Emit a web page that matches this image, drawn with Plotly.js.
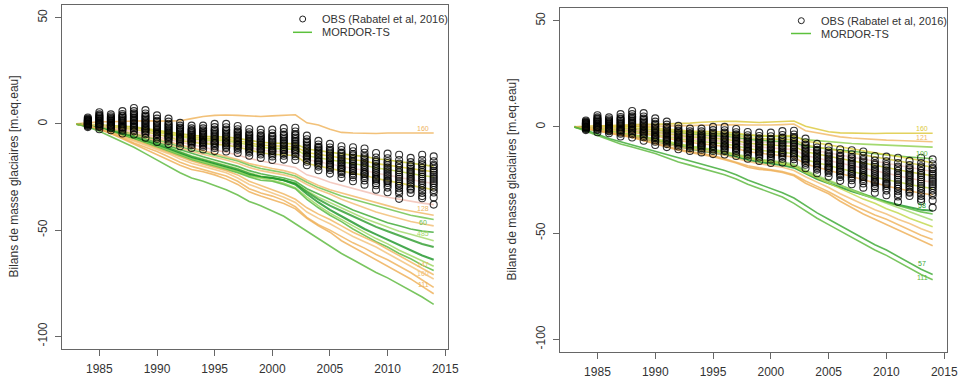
<!DOCTYPE html>
<html><head><meta charset="utf-8">
<script src="https://cdn.plot.ly/plotly-3.0.1.min.js"></script>
<style>html,body{margin:0;padding:0;background:#fff}#chart{width:963px;height:383px}</style>
</head><body><div id="chart"></div>
<script>
// ---------- DATA ----------
const simYears = [1983,1984,1985,1986,1987,1988,1989,1990,1991,1992,1993,1994,1995,1996,1997,1998,1999,2000,2001,2002,2003,2004,2005,2006,2007,2008,2009,2010,2011,2012,2013,2014];
const obsYears = [1984,1985,1986,1987,1988,1989,1990,1991,1992,1993,1994,1995,1996,1997,1998,1999,2000,2001,2002,2003,2004,2005,2006,2007,2008,2009,2010,2011,2012,2013,2014];
const xTicks = [1985,1990,1995,2000,2005,2010,2015];
const yTicks = [-100,-50,0,50];
const yTitle = "Bilans de masse glaciaires [m.eq.eau]";
const legendObs = "OBS (Rabatel et al, 2016)";
const legendSim = "MORDOR-TS";

// Observed cumulative mass balances (one array per glacier)
const obsG01 = [3.0,5.5,4.5,6.0,7.5,6.5,4.0,2.5,0.5,-0.8,-0.8,0,0,-1.0,-2.4,-2.7,-2.7,-2.0,-1.8,-5.5,-8.0,-9.4,-10.5,-11.0,-11.6,-13.7,-14.0,-14.5,-16.0,-14.5,-15.3];
const obsG02 = [2.5,4.5,3.6,4.7,6.0,4.9,2.5,1.1,-0.8,-2.1,-2.1,-1.5,-1.6,-2.5,-3.9,-4.3,-4.4,-3.8,-3.6,-7.2,-9.7,-11.1,-12.3,-12.9,-13.6,-15.8,-16.2,-17.0,-18.0,-17.0,-17.6];
const obsG03 = [1.9,3.6,2.7,3.5,4.5,3.4,1.0,-0.4,-2.1,-3.3,-3.5,-3.1,-3.1,-4.0,-5.4,-5.9,-6.1,-5.6,-5.4,-8.9,-11.3,-12.8,-14.1,-14.8,-15.7,-17.9,-18.4,-19.5,-20.0,-19.4,-19.9];
const obsG04 = [1.4,2.7,1.9,2.3,3.1,1.9,-0.4,-1.7,-3.4,-4.5,-4.7,-4.5,-4.6,-5.4,-6.8,-7.4,-7.7,-7.2,-7.1,-10.4,-12.8,-14.3,-15.7,-16.6,-17.6,-19.8,-20.4,-21.8,-21.8,-21.7,-22.1];
const obsG05 = [1.0,1.9,1.1,1.3,1.9,0.7,-1.6,-2.9,-4.5,-5.5,-5.8,-5.8,-5.9,-6.7,-8.1,-8.7,-9.1,-8.7,-8.6,-11.8,-14.2,-15.7,-17.2,-18.2,-19.3,-21.5,-22.2,-23.9,-23.4,-23.7,-24.0];
const obsG06 = [0.5,1.1,0.4,0.2,0.6,-0.7,-2.9,-4.1,-5.6,-6.6,-7.0,-7.0,-7.2,-8.0,-9.3,-10.0,-10.6,-10.1,-10.2,-13.2,-15.6,-17.1,-18.7,-19.8,-21.0,-23.2,-24.0,-25.9,-25.1,-25.8,-25.9];
const obsG07 = [0.1,0.3,-0.4,-0.8,-0.6,-2.0,-4.1,-5.3,-6.7,-7.6,-8.1,-8.3,-8.5,-9.3,-10.6,-11.3,-12.0,-11.6,-11.7,-14.6,-17.0,-18.5,-20.2,-21.4,-22.7,-25.0,-25.8,-28.0,-26.7,-27.8,-27.8];
const obsG08 = [-0.4,-0.6,-1.2,-2.0,-2.0,-3.4,-5.5,-6.6,-7.9,-8.8,-9.3,-9.7,-9.9,-10.7,-12.0,-12.8,-13.6,-13.2,-13.4,-16.1,-18.5,-20.0,-21.8,-23.2,-24.5,-26.8,-27.8,-30.3,-28.5,-30.1,-30.0];
const obsG09 = [-1.0,-1.5,-2.1,-3.2,-3.5,-4.9,-7.0,-8.1,-9.2,-10.0,-10.7,-11.3,-11.4,-12.2,-13.5,-14.4,-15.3,-15.0,-15.2,-17.8,-20.1,-21.7,-23.6,-25.1,-26.6,-28.9,-30.0,-32.8,-30.5,-32.5,-32.3];
const obsG10 = [-1.5,-2.5,-3.0,-4.5,-5.0,-6.5,-8.5,-9.5,-10.5,-11.3,-12.0,-12.8,-13.0,-13.7,-15.0,-16.0,-17.0,-16.8,-17.0,-19.5,-21.8,-23.4,-25.4,-27.0,-28.6,-31.0,-32.2,-35.3,-32.5,-35.0,-34.6];
const obsG11 = [0.0,-0.1,-0.8,-1.4,-1.3,-2.7,-4.8,-6.0,-7.3,-8.2,-8.7,-9.0,-9.2,-10.0,-11.3,-12.0,-12.8,-12.4,-12.6,-15.4,-17.8,-19.3,-21.0,-22.3,-23.6,-25.9,-27.0,-29.1,-31.0,-34.0,-38.0];
const obsG12 = [1.6,3.1,2.3,2.9,3.8,2.6,0.3,-1.1,-2.8,-4.0,-4.2,-3.8,-3.9,-4.8,-6.2,-6.7,-7.0,-6.4,-6.4,-9.7,-12.1,-13.6,-15.0,-15.8,-16.7,-18.9,-19.5,-20.7,-21.0,-20.7,-21.1];
const obsG13 = [1.2,2.3,1.5,1.8,2.5,1.3,-1.0,-2.3,-3.9,-5.0,-5.3,-5.1,-5.2,-6.1,-7.4,-8.0,-8.4,-7.9,-7.9,-11.1,-13.5,-15.0,-16.5,-17.4,-18.4,-20.6,-21.3,-22.8,-22.6,-22.7,-23.0];
const obsG14 = [0.8,1.5,0.8,0.8,1.3,0.0,-2.3,-3.5,-5.0,-6.1,-6.4,-6.4,-6.5,-7.4,-8.7,-9.4,-9.9,-9.4,-9.4,-12.5,-14.9,-16.4,-18.0,-19.0,-20.1,-22.4,-23.1,-24.9,-24.3,-24.8,-25.0];
const obsG15 = [0.3,0.7,0.0,-0.3,0.0,-1.3,-3.5,-4.7,-6.1,-7.1,-7.5,-7.7,-7.8,-8.6,-10.0,-10.7,-11.3,-10.9,-10.9,-13.9,-16.3,-17.8,-19.4,-20.6,-21.8,-24.1,-24.9,-27.0,-25.9,-26.8,-26.9];
const obsG16 = [-0.2,-0.1,-0.8,-1.4,-1.3,-2.6,-4.8,-5.9,-7.2,-8.2,-8.6,-9.0,-9.1,-9.9,-11.2,-12.0,-12.7,-12.4,-12.4,-15.3,-17.7,-19.2,-20.9,-22.2,-23.5,-25.8,-26.7,-29.1,-27.6,-28.9,-28.8];
const obsG17 = [2.1,3.9,3.0,3.9,5.0,3.9,1.5,0.1,-1.7,-2.9,-3.0,-2.6,-2.6,-3.5,-4.9,-5.4,-5.6,-5.0,-4.8,-8.3,-10.8,-12.2,-13.5,-14.2,-15.0,-17.2,-17.6,-18.7,-19.3,-18.6,-19.2];
const obsG18 = [-0.7,-1.1,-1.7,-2.6,-2.8,-4.2,-6.3,-7.3,-8.5,-9.4,-10.0,-10.5,-10.7,-11.4,-12.7,-13.6,-14.4,-14.1,-14.3,-17.0,-19.3,-20.9,-22.7,-24.1,-25.5,-27.9,-28.9,-31.6,-29.5,-31.3,-31.1];

// Left panel simulations
const simL01 = [0,0.5,1,1,1.2,1.5,1.5,1.3,1.5,1.5,2.5,3.5,4,4.2,4,3.8,3.5,3.8,4,4.3,0.5,-0.5,-2.5,-4,-4.3,-4.5,-4.5,-4.3,-4.3,-4.5,-4.5,-4.3];
const simL02 = [0,-0.1,-0.4,-0.8,-1.2,-1.4,-2.2,-3,-3.8,-4.8,-5.4,-5.8,-6,-6.2,-6.8,-7.8,-8.6,-9,-9.2,-9.4,-11.8,-12.6,-13.4,-14.2,-14.8,-15.3,-16.4,-17,-17.8,-18.6,-19.3,-20];
const simL03 = [0,-0.2,-0.6,-1.1,-1.5,-1.8,-2.7,-3.6,-4.5,-5.6,-6.3,-6.7,-7,-7.2,-7.9,-9,-9.9,-10.3,-10.6,-10.8,-13.5,-14.4,-15.3,-16.2,-16.9,-17.5,-18.7,-19.4,-20.3,-21.2,-21.8,-22.5];
const simL04 = [0,-0.2,-0.7,-1.2,-1.7,-2,-3,-4,-5,-6.2,-7,-7.5,-7.8,-8,-8.8,-10,-11,-11.5,-11.8,-12,-15,-16,-17,-18,-18.8,-19.5,-20.8,-21.5,-22.5,-23.5,-24.3,-25];
const simL05 = [0,-0.3,-0.8,-1.4,-2,-2.2,-3.4,-4.5,-5.6,-7,-7.8,-8.4,-8.7,-9,-9.8,-11.2,-12.3,-12.9,-13.2,-13.4,-16.8,-17.9,-19,-20.2,-21,-21.8,-23.2,-24.1,-25.2,-26.3,-27.2,-28];
const simL06 = [0,-0.3,-0.9,-1.5,-2.2,-2.5,-3.7,-5,-6.2,-7.8,-8.7,-9.3,-9.6,-10,-10.9,-12.4,-13.6,-14.3,-14.6,-14.9,-18.6,-19.8,-21,-22.3,-23.3,-24.2,-25.7,-26.7,-27.9,-29.1,-30,-31];
const simL07 = [0,-0.5,-1.2,-2,-2.8,-3.6,-4.8,-6,-7.3,-8.6,-9.8,-10.8,-12,-13.2,-14.6,-16.3,-17.5,-18.5,-19.5,-20.5,-24,-25.5,-27.5,-29,-30.5,-32,-33.3,-34.5,-35.5,-36.5,-37.3,-38];
const simL08 = [0,-0.7,-1.5,-2.4,-3.4,-4.4,-5.7,-7,-8.5,-10,-11.5,-12.7,-14,-15.3,-16.8,-18.7,-20,-21,-22,-23.5,-26.5,-29,-31,-32.5,-34,-35.5,-37,-38.5,-40,-41,-42,-43];
const simL09 = [0,-0.7,-1.6,-2.6,-3.7,-4.8,-6.2,-7.6,-9.2,-10.8,-12.3,-13.5,-14.8,-16,-17.5,-19.5,-21,-22,-23,-24.5,-27.5,-30,-32,-34,-35.5,-37,-38.5,-40,-41.5,-43,-44,-45];
const simL10 = [0,-0.8,-1.8,-2.8,-4,-5.2,-6.7,-8.2,-9.8,-11.5,-13,-14.3,-15.5,-17,-18.5,-20.5,-22,-23,-24,-25.5,-28.5,-31,-33,-35.5,-37.5,-39.5,-41.5,-43,-44.5,-46,-47,-48];
const simL11 = [0,-0.8,-1.8,-3,-4.3,-5.6,-7.2,-8.8,-10.5,-12.3,-14,-15.5,-17,-18.5,-20,-22,-23.5,-24.5,-25.5,-27,-30.5,-33,-35.5,-38,-40.5,-42.5,-44.5,-46.5,-48,-49.5,-50.5,-51];
const simL12 = [0,-1,-2,-3.3,-4.6,-6,-7.7,-9.3,-11,-13,-15,-16.5,-18,-19.5,-21,-23,-24.5,-25.5,-26.5,-28,-31.5,-34.5,-37,-39.5,-42,-44.5,-46.5,-48.5,-50.5,-52,-53.5,-55];
const simL13 = [0,-1,-2,-3.4,-4.8,-6.2,-8,-9.5,-11.5,-13.5,-15.5,-17,-18.5,-20,-21.5,-23.5,-25,-25.5,-26.5,-28,-32,-35.5,-38.5,-41,-43.5,-46,-48.5,-50.5,-52.5,-54.5,-56.5,-58];
const simL14 = [0,-1,-2.2,-3.6,-5,-6.5,-8.3,-10,-12,-14,-16,-17.5,-19,-20.5,-22,-24,-25,-25.5,-26.5,-28.5,-33,-37,-40.5,-43.5,-46.5,-49.5,-52,-54.5,-57,-59.5,-62,-64];
const simL15 = [0,-1,-2.3,-3.8,-5.3,-6.8,-8.7,-10.5,-12.5,-14.5,-16.5,-18,-19.5,-21,-22.5,-24.5,-25.5,-26.5,-28,-30,-34.5,-38.5,-42,-45,-48,-51,-54,-56.5,-59.5,-62,-64.5,-67];
const simL16 = [0,-1,-2.5,-4,-5.5,-7,-9,-11,-13,-15,-17,-18.5,-20,-21.5,-23,-25,-26.5,-27,-28.5,-30.5,-35.5,-39.5,-43,-46,-49.5,-52.5,-55.5,-58,-61,-63.5,-66.5,-69];
const simL17 = [0,-1,-2.2,-4,-5.8,-7.5,-9.5,-11.5,-13.5,-15.5,-17.5,-19,-20.5,-22,-24,-27,-29,-31,-33,-35.5,-39.5,-42.5,-45,-48,-51,-53.5,-56,-59,-62,-65,-68,-71];
const simL18 = [0,-1,-2.3,-4,-6,-8,-10,-12,-14,-16.5,-18.5,-20,-21.5,-23,-25.5,-28.5,-30.5,-32.5,-34.5,-37,-41.5,-44.5,-47,-50,-53,-55.5,-58,-61,-64,-67,-70,-73];
const simL19 = [0,-1,-2.5,-4.5,-6.5,-9,-11,-13,-15.5,-18,-20,-21.5,-22.7,-24.5,-27,-30.5,-32.5,-34,-36,-39,-44,-47.5,-50,-53,-56,-58.5,-61.5,-64,-67,-70,-73.5,-77];
const simL20 = [0,-1,-2.5,-4.5,-7,-9.5,-12,-14.5,-17,-19.5,-21.5,-22.5,-24,-26,-28.5,-32,-34,-35.7,-37.5,-40,-44.5,-48,-51,-55,-58,-61,-64,-67,-70,-73,-76.5,-80];
const simL21 = [0,-1.5,-3.5,-6,-8.5,-11,-14,-17,-20,-23,-25.5,-27,-29,-31,-33.5,-36.5,-38.5,-41,-43.5,-47,-50.5,-54,-57.5,-61,-64,-67,-70,-72.5,-75.5,-78.5,-81.5,-85];
const leftLabels = ["160","","","","","","","128","60","","","485","","","","","147","160","111","",""];

// Right panel simulations
const simR01 = [0,0.2,0.5,0.8,1,1.2,1.2,1.2,1.3,1.5,1.8,2.2,2.5,2.7,2.6,2.3,2.1,2.3,2.5,2.8,0.3,-1,-2.3,-2.8,-3,-3.1,-3.1,-3,-3,-3.1,-3.1,-3];
const simR02 = [0,0.1,0.2,0.3,0.4,0.5,0.4,0.3,0.3,0.4,0.6,0.8,1,1.2,1.1,0.9,0.8,0.9,1.1,1.4,-1.8,-2.8,-3.9,-4.7,-5.2,-5.6,-5.9,-6.2,-6.4,-6.6,-6.8,-7];
const simR03 = [0,0,-0.2,-0.4,-0.6,-0.7,-1.1,-1.5,-1.9,-2.4,-2.7,-2.9,-3,-3.3,-3.6,-4.1,-4.4,-4.5,-4.5,-4.6,-6,-6.5,-7,-7.4,-7.8,-8.1,-8.4,-8.7,-8.9,-9.1,-9.3,-9.5];
const simR04 = [0,-0.1,-0.3,-0.6,-0.9,-1.1,-1.6,-2.1,-2.6,-3.2,-3.6,-3.9,-4.1,-4.5,-5,-5.9,-6.4,-6.7,-7,-7.3,-9.2,-9.8,-10.4,-11,-11.6,-12.1,-12.7,-13.2,-13.7,-14.2,-14.6,-15];
const simR05 = [0,0.2,0.3,0.3,0.2,0.3,-0.1,-0.6,-1.1,-1.7,-2,-2.1,-2.1,-2.4,-2.9,-3.7,-4.1,-4.2,-4.2,-4.2,-6.6,-7.5,-8.4,-9.3,-10.2,-11,-12,-12.8,-13.7,-14.6,-15.8,-17];
const simR06 = [0,0.1,0,-0.2,-0.4,-0.4,-0.9,-1.4,-2,-2.7,-3,-3.2,-3.3,-3.7,-4.2,-5.1,-5.6,-5.8,-5.9,-6,-8.5,-9.4,-10.3,-11.3,-12.3,-13.2,-14.2,-15.1,-16,-17,-18,-19];
const simR07 = [0,0,-0.2,-0.5,-0.8,-0.9,-1.5,-2.1,-2.8,-3.6,-4,-4.3,-4.5,-5,-5.6,-6.6,-7.2,-7.4,-7.6,-7.8,-10.3,-11.3,-12.3,-13.3,-14.3,-15.2,-16.3,-17.2,-18.2,-19.2,-20.1,-21];
const simR08 = [0,-0.1,-0.4,-0.7,-1,-1.2,-1.9,-2.6,-3.3,-4.2,-4.7,-5,-5.3,-5.8,-6.5,-7.6,-8.2,-8.5,-8.8,-9.1,-11.7,-12.8,-13.9,-15,-16,-17,-18.2,-19.2,-20.2,-21.2,-22.2,-23];
const simR09 = [0,-0.2,-0.5,-0.9,-1.3,-1.5,-2.3,-3.1,-3.9,-4.9,-5.5,-5.9,-6.2,-6.8,-7.6,-8.8,-9.5,-9.9,-10.3,-10.7,-13.5,-14.7,-15.9,-17.2,-18.4,-19.6,-20.9,-22,-23.1,-24.2,-25.2,-26];
const simR10 = [0,-0.2,-0.6,-1.1,-1.6,-1.9,-2.8,-3.7,-4.6,-5.7,-6.4,-6.9,-7.3,-8,-8.9,-10.2,-11,-11.5,-12,-12.5,-15.5,-16.8,-18.2,-19.6,-21,-22.3,-23.7,-24.9,-26.1,-27.2,-28.2,-29];
const simR11 = [0,-0.3,-0.8,-1.4,-2,-2.4,-3.3,-4.3,-5.3,-6.5,-7.3,-7.9,-8.4,-9.2,-10.2,-11.6,-12.4,-13,-13.6,-14.2,-17.5,-19,-20.5,-22,-23.5,-25,-26.5,-27.8,-29,-30.2,-31.2,-32];
const simR12 = [0,-0.7,-1.6,-2.5,-3.4,-4.3,-5.5,-6.7,-8,-9.3,-10.3,-11.2,-12,-13,-14.2,-15.6,-16.5,-17.2,-18,-19.2,-22,-24.5,-26.5,-28.5,-30.3,-32,-33.8,-35.3,-36.7,-38,-39,-39.5];
const simR13 = [0,-0.6,-1.4,-2.2,-3,-3.8,-4.8,-6,-7.2,-8.4,-9.3,-10.2,-11,-12,-13.2,-14.6,-15.5,-16.2,-17,-18.2,-21,-23.5,-25.5,-27.5,-29.5,-31.5,-33.5,-35.5,-37,-38.5,-40,-41];
const simR14 = [0,-0.5,-1.2,-2,-2.8,-3.5,-4.5,-5.6,-6.8,-8,-9,-9.8,-10.5,-11.6,-12.8,-14.3,-15.2,-15.8,-16.5,-17.6,-20.5,-23,-25,-27.5,-29.8,-32,-34,-36,-38,-40,-42,-44];
const simR15 = [0,-0.5,-1.2,-2,-2.8,-3.5,-4.6,-5.8,-7,-8.3,-9.2,-10,-10.8,-12,-13.3,-14.8,-15.8,-16.5,-17.3,-18.5,-21.5,-24,-26.5,-29,-31.5,-34,-36,-38.5,-40.5,-43,-45,-47];
const simR16 = [0,-0.6,-1.4,-2.4,-3.3,-4.2,-5.4,-6.6,-8,-9.3,-10.3,-11.2,-12,-13.3,-14.7,-16.3,-17.3,-18,-19,-20.5,-23.5,-26,-28.5,-31.5,-34,-36.5,-39,-41,-43.5,-45.5,-48,-50];
const simR17 = [0,-0.8,-1.7,-2.8,-3.8,-4.8,-6.2,-7.5,-9,-10.5,-11.5,-12.5,-13.5,-15,-16.5,-18.3,-19.3,-20,-21,-22.5,-25.5,-28,-30.5,-33.5,-36.5,-39,-41.5,-43.5,-46,-48.5,-51,-53];
const simR18 = [0,-0.8,-1.8,-3,-4,-5,-6.5,-8,-9.5,-11,-12,-13,-14,-15.5,-17,-19,-20,-20.5,-21.5,-23,-26.5,-29,-31.5,-35,-38,-41,-43.5,-46,-48.5,-51,-53.5,-56];
const simR19 = [0,-1.5,-3.5,-5.5,-7,-8.5,-10,-11.5,-13,-14.5,-16,-17.5,-19,-20.5,-22.5,-25,-27,-29,-31,-33.5,-37,-40.5,-43.5,-46.5,-49.5,-52.5,-55.5,-58,-61,-64,-67,-69.5];
const simR20 = [0,-2,-4,-6,-8,-9.5,-11,-12.5,-14.5,-16.5,-18,-19.5,-21,-22.5,-24.5,-27,-29,-31,-33,-36,-39.5,-43,-46,-49,-52,-55,-58,-60.5,-63.5,-66.5,-69.5,-72];
const rightLabels = ["160","121","","100","","","","","","","","58","","","","","","","57","111"];

// ---------- STYLES ----------
const leftColors = ['#efb35c','#c9c935','#e0d23a','#c2d84a','#f3cfc4','#dad04a','#f1c0b3','#f0b866','#6cc24a','#f2bd73','#3aa832','#a2d86a','#2f9e2f','#1f962a','#9cd65e','#55b83a','#f0b660','#f3c27a','#efb25a','#eeae55','#5cb83c'];
const rightColors = ['#dcc83a','#f0b866','#8fd14f','#5cb83c','#e0d23a','#d8cf45','#f3c9bd','#c9c935','#f1c0b3','#c2d84a','#f0b25e','#1f962a','#55b83a','#a2d86a','#c2d84a','#f2bd73','#efb25a','#eeae55','#3aa832','#5cb83c'];
// label vertical nudges in pixels (style only)
const leftLabelShift = [5,0,0,0,0,0,0,5,-5,0,0,4,0,0,0,0,4,-1,-5,0,0];
const rightLabelShift = [5,4,0,4,0,0,0,0,0,0,0,4,0,0,0,0,0,0,6,-3];

const leftSims = [simL01,simL02,simL03,simL04,simL05,simL06,simL07,simL08,simL09,simL10,simL11,simL12,simL13,simL14,simL15,simL16,simL17,simL18,simL19,simL20,simL21];
const rightSims = [simR01,simR02,simR03,simR04,simR05,simR06,simR07,simR08,simR09,simR10,simR11,simR12,simR13,simR14,simR15,simR16,simR17,simR18,simR19,simR20];
const obsAll = [obsG01,obsG02,obsG03,obsG04,obsG05,obsG06,obsG07,obsG08,obsG09,obsG10,obsG11,obsG12,obsG13,obsG14,obsG15,obsG16,obsG17,obsG18];

const W = 963, H = 383;
const FONT = 'Liberation Sans, Arial, sans-serif';
const traces = [];
const shapes = [], annotations = [];

function addPanel(sims, colors, labels, shifts, xa, ya) {
  sims.forEach((s, i) => {
    const thick = ['#1f962a','#2f9e2f'].includes(colors[i]);
    traces.push({
      x: simYears, y: s, xaxis: xa, yaxis: ya, type: 'scatter', mode: 'lines',
      line: {color: colors[i], width: thick ? 2.1 : 1.6}, opacity: 0.82, hoverinfo: 'skip'
    });
  });
  obsAll.forEach(g => traces.push({
    x: obsYears, y: g, xaxis: xa, yaxis: ya, type: 'scatter', mode: 'markers',
    marker: {symbol: 'circle-open', size: 7, color: 'rgba(0,0,0,0.8)', line: {width: 1.1}},
    hoverinfo: 'skip'
  }));
  const n = simYears.length;
  sims.forEach((s, i) => {
    if (!labels[i]) return;
    annotations.push({
      xref: xa, yref: ya, x: simYears[n - 2] + 0.1, y: s[n - 2], yshift: shifts[i],
      text: labels[i], showarrow: false, xanchor: 'center', yanchor: 'middle',
      font: {family: FONT, size: 7, color: colors[i]}
    });
  });
}
addPanel(leftSims, leftColors, leftLabels, leftLabelShift, 'x', 'y');
addPanel(rightSims, rightColors, rightLabels, rightLabelShift, 'x2', 'y2');

function xax(d, anchor) {
  return {domain: d, anchor: anchor, range: [1981.76, 2015.24], tickvals: xTicks, ticktext: xTicks.map(String),
    ticks: 'outside', ticklen: 6, tickcolor: '#666', showline: true, mirror: true,
    linecolor: '#666', linewidth: 1, showgrid: false, zeroline: false, ticklabelstandoff: 3,
    tickfont: {family: FONT, size: 12, color: '#333'}};
}
function yax(d, anchor) {
  return {domain: d, anchor: anchor, range: [-106, 56], tickvals: yTicks, ticktext: yTicks.map(String),
    tickangle: -90, ticks: 'outside', ticklen: 6, tickcolor: '#666', showline: true, mirror: true,
    linecolor: '#666', linewidth: 1, showgrid: false, zeroline: false, ticklabelstandoff: 3,
    tickfont: {family: FONT, size: 12, color: '#333'}};
}

const px = v => v / W, py = v => 1 - v / H;
function legend(cx, cy, lx0, lx1, ly, tx) {
  shapes.push({type: 'circle', xref: 'paper', yref: 'paper', x0: px(cx - 3), x1: px(cx + 3), y0: py(cy + 3), y1: py(cy - 3), line: {color: '#222', width: 1}});
  shapes.push({type: 'line', xref: 'paper', yref: 'paper', x0: px(lx0), x1: px(lx1), y0: py(ly), y1: py(ly), line: {color: '#5cc13c', width: 1.5}});
  annotations.push({xref: 'paper', yref: 'paper', x: px(tx), y: py(cy), xanchor: 'left', yanchor: 'middle', text: legendObs, showarrow: false, font: {family: FONT, size: 11, color: '#333'}});
  annotations.push({xref: 'paper', yref: 'paper', x: px(tx), y: py(ly), xanchor: 'left', yanchor: 'middle', text: legendSim, showarrow: false, font: {family: FONT, size: 11, color: '#333'}});
}
legend(302.7, 19, 293, 312, 32.3, 320);
legend(801.3, 20.7, 791, 811, 33.5, 818.5);
annotations.push({xref: 'paper', yref: 'paper', x: px(13.5), y: py(177), xanchor: 'center', yanchor: 'middle', textangle: -90, text: yTitle, showarrow: false, font: {family: FONT, size: 12, color: '#333'}});
annotations.push({xref: 'paper', yref: 'paper', x: px(511.5), y: py(180), xanchor: 'center', yanchor: 'middle', textangle: -90, text: yTitle, showarrow: false, font: {family: FONT, size: 12, color: '#333'}});

const layout = {
  width: W, height: H, margin: {l: 0, r: 0, t: 0, b: 0},
  paper_bgcolor: '#fff', plot_bgcolor: '#fff', showlegend: false,
  xaxis: xax([px(62), px(448)], 'y'), yaxis: yax([py(349), py(5)], 'x'),
  xaxis2: xax([px(560), px(947)], 'y2'), yaxis2: yax([py(352), py(8)], 'x2'),
  shapes: shapes, annotations: annotations
};
Plotly.newPlot('chart', traces, layout, {staticPlot: true, displayModeBar: false});
</script></body></html>
